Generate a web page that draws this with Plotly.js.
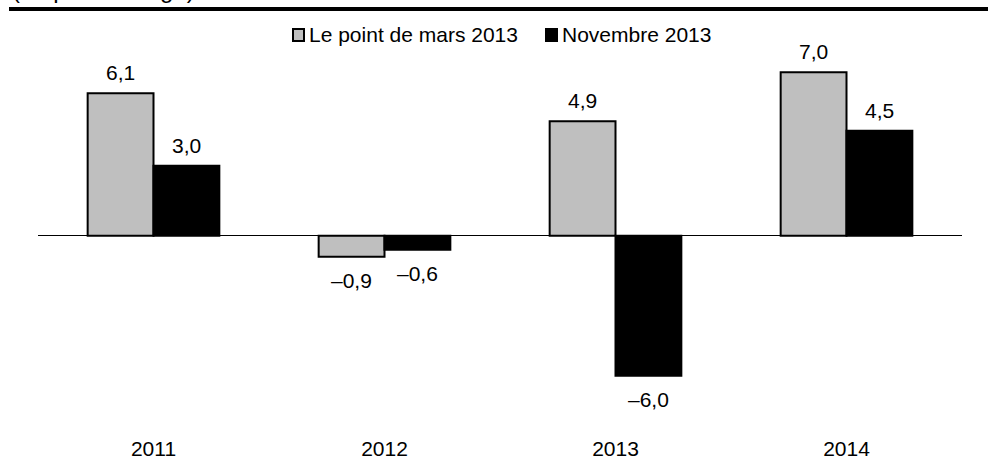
<!DOCTYPE html>
<html>
<head>
<meta charset="utf-8">
<script src="https://cdn.plot.ly/plotly-3.0.1.min.js"></script>
<style>html,body{margin:0;padding:0;background:#fff;}#chart{width:988px;height:461px;}</style>
</head>
<body>
<div id="chart"></div>
<script>
var categories = ['2011', '2012', '2013', '2014'];
var seriesNames = ['Le point de mars 2013', 'Novembre 2013'];
var marsValues = [6.1, -0.9, 4.9, 7.0];
var novValues = [3.0, -0.6, -6.0, 4.5];
var subtitle = '(en pourcentage)';

var W = 988, H = 461;
var M = {l: 38, r: 26, t: 49, b: 27};
var PW = W - M.l - M.r, PH = H - M.t - M.b;
function px2x(p) { return (p - M.l) / PW; }
function px2y(p) { return 1 - (p - M.t) / PH; }

var FONT = 'Arial, "Liberation Sans", sans-serif';
var FS = 21;
var BARGAP = 0.43;
function fmt(v) { return v.toFixed(1).replace('.', ',').replace('-', '\u2013'); }

var colors = ['#bfbfbf', '#000000'];
var allValues = [marsValues, novValues];

var traces = allValues.map(function (vals, i) {
  return {
    type: 'bar',
    name: seriesNames[i],
    x: categories.map(function (c, k) { return k; }),
    y: vals,
    marker: {color: colors[i], line: {color: '#000', width: 2}},
    hoverinfo: 'none',
    showlegend: false
  };
});

var annotations = [];
allValues.forEach(function (vals, i) {
  var off = (1 - BARGAP) / 4 * (i === 0 ? -1 : 1);
  vals.forEach(function (v, k) {
    annotations.push({
      x: k + off, y: v, xref: 'x', yref: 'y',
      text: fmt(v), showarrow: false,
      xanchor: 'center', yanchor: v >= 0 ? 'bottom' : 'top',
      yshift: v >= 0 ? 7 : -10,
      font: {family: FONT, size: FS, color: '#000'}
    });
  });
});

// manual legend
var legendItems = [
  {sq: 292, tx: 307},
  {sq: 545, tx: 560}
];
var shapes = [];
legendItems.forEach(function (it, i) {
  shapes.push({
    type: 'rect', xref: 'paper', yref: 'paper',
    x0: px2x(it.sq + 1), x1: px2x(it.sq + 12),
    y0: px2y(41), y1: px2y(29),
    fillcolor: colors[i], line: {color: '#000', width: 2}
  });
  annotations.push({
    xref: 'paper', yref: 'paper', x: px2x(it.tx), y: px2y(35),
    xanchor: 'left', yanchor: 'middle', showarrow: false,
    text: seriesNames[i], font: {family: FONT, size: FS, color: '#000'}
  });
});
// top rule
shapes.push({
  type: 'line', xref: 'paper', yref: 'paper',
  x0: px2x(9), x1: px2x(990), y0: px2y(9), y1: px2y(9),
  line: {color: '#000', width: 4}
});
// cut-off subtitle (as in the reference, only its lower edge is visible)
annotations.push({
  xref: 'paper', yref: 'paper', x: px2x(10), y: px2y(5),
  xanchor: 'left', yanchor: 'bottom', showarrow: false,
  text: subtitle, font: {family: FONT, size: 24, color: '#000'}
});

var layout = {
  width: W, height: H,
  margin: M,
  paper_bgcolor: '#fff', plot_bgcolor: '#fff',
  barmode: 'group', bargap: BARGAP, bargroupgap: 0,
  showlegend: false,
  font: {family: FONT, size: FS, color: '#000'},
  xaxis: {
    type: 'linear', range: [-0.5, 3.5],
    tickmode: 'array', tickvals: [0, 1, 2, 3], ticktext: categories,
    showgrid: false, zeroline: false, showline: false, ticks: '',
    tickfont: {family: FONT, size: FS, color: '#000'}
  },
  yaxis: {
    range: [-8.5, 8.0],
    showgrid: false, showticklabels: false, ticks: '',
    zeroline: true, zerolinecolor: '#000', zerolinewidth: 1,
    showline: false
  },
  shapes: shapes,
  annotations: annotations
};

Plotly.newPlot('chart', traces, layout, {displayModeBar: false, staticPlot: true});
</script>
</body>
</html>
